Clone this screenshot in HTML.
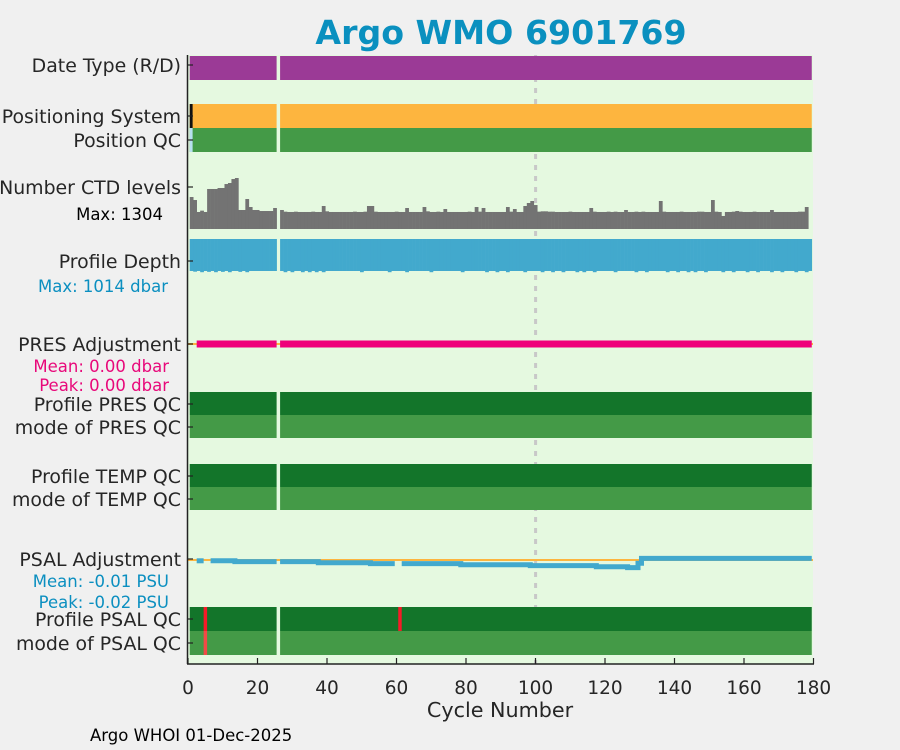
<!DOCTYPE html>
<html><head><meta charset="utf-8"><style>
html,body{margin:0;padding:0;background:#f0f0f0;}
svg{display:block;font-family:"DejaVu Sans","Liberation Sans",sans-serif;}
</style></head><body>
<svg id="chart" width="900" height="750" viewBox="0 0 900 750" xmlns="http://www.w3.org/2000/svg">
<rect x="0" y="0" width="900" height="750" fill="#f0f0f0"/>
<text x="501" y="44" text-anchor="middle" font-size="33.2" font-weight="bold" fill="#0a90bf">Argo WMO 6901769</text>
<rect x="188" y="55" width="625" height="609" fill="#e5f9e0"/>
<line x1="535.6" y1="55" x2="535.6" y2="664" stroke="#c8c8c8" stroke-width="3" stroke-dasharray="5,6"/>
<g id="marks"></g>
<line x1="187.5" y1="55" x2="187.5" y2="664" stroke="#222" stroke-width="1.5"/>
<line x1="187" y1="664" x2="814" y2="664" stroke="#222" stroke-width="1.5"/>
<g id="xticks"></g>
<g id="ylabels" font-size="18.9" fill="#262626" text-anchor="end"></g>
<text x="163" y="220" font-size="16.5" fill="#000" text-anchor="end">Max: 1304</text>
<text x="168" y="292" font-size="16.5" fill="#0b8fc0" text-anchor="end">Max: 1014 dbar</text>
<text x="169" y="372" font-size="16.5" fill="#e8087a" text-anchor="end">Mean: 0.00 dbar</text>
<text x="169" y="391" font-size="16.5" fill="#e8087a" text-anchor="end">Peak: 0.00 dbar</text>
<text x="169" y="587" font-size="16.5" fill="#0b8fc0" text-anchor="end">Mean: -0.01 PSU</text>
<text x="169" y="608" font-size="16.5" fill="#0b8fc0" text-anchor="end">Peak: -0.02 PSU</text>
<text x="500" y="717" font-size="20.7" fill="#262626" text-anchor="middle">Cycle Number</text>
<text x="90" y="741" font-size="16.5" fill="#000">Argo WHOI 01-Dec-2025</text>
</svg>
<script>
const NS="http://www.w3.org/2000/svg";
const xTicks=[0,20,40,60,80,100,120,140,160,180];
const cycles=[];for(let c=1;c<=179;c++){cycles.push(c);}
const missingCycles=[26];
const ctdLevels=[818,741,435,469,435,1023,1023,1023,1048,1048,1150,1176,1278,1304,486,486,767,562,486,486,460,460,460,460,537,null,486,443,435,435,443,435,435,435,435,443,435,435,588,452,435,435,435,435,435,435,435,443,435,435,443,588,588,443,435,435,435,435,435,443,435,435,537,435,435,435,435,562,452,435,435,443,435,511,435,435,435,435,435,435,443,435,562,443,537,435,435,435,435,435,435,562,443,511,435,435,588,665,716,613,443,452,452,443,443,435,435,435,435,443,435,435,435,435,435,537,443,435,435,435,443,435,443,435,435,486,435,435,443,435,443,435,435,435,435,716,443,435,435,435,435,443,435,435,435,435,443,443,435,435,741,443,435,333,435,435,443,460,443,435,435,435,443,435,435,435,435,486,435,435,435,435,435,435,435,443,443,562];
const ctdMax=1304;
const depths=[1000,1008,1000,1014,1000,1010,1000,1014,1000,1010,1000,1014,1000,1000,1010,1000,1014,1000,1000,1000,1000,1000,1000,1000,1000,null,1000,1014,1000,1014,1000,1000,1014,1000,1014,1000,1014,1000,1014,1000,1000,1000,1000,1000,1000,1000,1000,1000,1000,1014,1000,1000,1000,1000,1000,1000,1000,1014,1000,1000,1000,1000,1014,1000,1000,1000,1000,1000,1000,1014,1000,1000,1000,1000,1000,1000,1000,1000,1014,1000,1000,1000,1000,1000,1000,1014,1000,1000,1014,1000,1000,1014,1000,1000,1000,1000,1014,1000,1000,1000,1000,1014,1000,1000,1014,1000,1000,1014,1000,1000,1000,1014,1000,1014,1000,1000,1014,1000,1000,1000,1000,1000,1014,1000,1000,1000,1000,1000,1014,1000,1000,1014,1000,1000,1000,1000,1000,1014,1000,1000,1014,1000,1000,1014,1000,1014,1000,1000,1014,1000,1000,1000,1000,1014,1000,1000,1014,1000,1000,1000,1014,1000,1000,1014,1000,1000,1000,1014,1000,1000,1014,1000,1000,1000,1014,1000,1000,1014,1000,1000,1014];
const depthMax=1014;
const presAdj=[null,null,0,0,0,0,0,0,0,0,0,0,0,0,0,0,0,0,0,0,0,0,0,0,0,null,0,0,0,0,0,0,0,0,0,0,0,0,0,0,0,0,0,0,0,0,0,0,0,0,0,0,0,0,0,0,0,0,0,0,0,0,0,0,0,0,0,0,0,0,0,0,0,0,0,0,0,0,0,0,0,0,0,0,0,0,0,0,0,0,0,0,0,0,0,0,0,0,0,0,0,0,0,0,0,0,0,0,0,0,0,0,0,0,0,0,0,0,0,0,0,0,0,0,0,0,0,0,0,0,0,0,0,0,0,0,0,0,0,0,0,0,0,0,0,0,0,0,0,0,0,0,0,0,0,0,0,0,0,0,0,0,0,0,0,0,0,0,0,0,0,0,0,0,0,0,0,0,0];
const psalAdj=[null,null,-0.002,-0.002,null,null,-0.002,-0.002,-0.002,-0.002,-0.002,-0.002,-0.002,-0.004,-0.004,-0.004,-0.004,-0.004,-0.004,-0.004,-0.004,-0.004,-0.004,-0.004,-0.004,null,-0.004,-0.004,-0.004,-0.004,-0.004,-0.004,-0.004,-0.004,-0.004,-0.004,-0.004,-0.007,-0.007,-0.007,-0.007,-0.007,-0.007,-0.007,-0.007,-0.007,-0.007,-0.007,-0.007,-0.007,-0.007,-0.007,-0.009,-0.009,-0.009,-0.009,-0.009,-0.009,-0.009,null,null,-0.009,-0.009,-0.009,-0.009,-0.009,-0.009,-0.009,-0.009,-0.009,-0.009,-0.009,-0.009,-0.009,-0.009,-0.009,-0.009,-0.009,-0.012,-0.012,-0.012,-0.012,-0.012,-0.012,-0.012,-0.012,-0.012,-0.012,-0.012,-0.012,-0.012,-0.012,-0.012,-0.012,-0.012,-0.012,-0.012,-0.012,-0.014,-0.014,-0.014,-0.014,-0.014,-0.014,-0.014,-0.014,-0.014,-0.014,-0.014,-0.014,-0.014,-0.014,-0.014,-0.014,-0.014,-0.014,-0.014,-0.017,-0.017,-0.017,-0.017,-0.017,-0.017,-0.017,-0.017,-0.017,-0.019,-0.019,-0.019,-0.008,0.004,0.004,0.004,0.004,0.004,0.004,0.004,0.004,0.004,0.004,0.004,0.004,0.004,0.004,0.004,0.004,0.004,0.004,0.004,0.004,0.004,0.004,0.004,0.004,0.004,0.004,0.004,0.004,0.004,0.004,0.004,0.004,0.004,0.004,0.004,0.004,0.004,0.004,0.004,0.004,0.004,0.004,0.004,0.004,0.004,0.004,0.004,0.004,0.004];
const psalQcBadProfile=[5,61];
const psalQcBadMode=[5];
const positioningOther=[1];
const yLabels=["Date Type (R/D)","Positioning System","Position QC","Number CTD levels","Profile Depth","PRES Adjustment","Profile PRES QC","mode of PRES QC","Profile TEMP QC","mode of TEMP QC","PSAL Adjustment","Profile PSAL QC","mode of PSAL QC"];

const X0=188,X1=813.5,CMAX=180;
function xs(c){return X0+c*(X1-X0)/CMAX;}
function yCtd(v){return 229-v/ctdMax*51;}
function yDepth(v){return 271+(v-1000)/(depthMax-1000)*1.2;}
function yPres(v){return 344-v*400;}
function yPsal(v){return 560-v*400;}
const yLabelPos=[65,116,140,187,261,344,404,427,476,499,559,619,643];

const marks=document.getElementById('marks');
function rect(x,y,w,h,fill,name){const r=document.createElementNS(NS,'rect');r.setAttribute('x',x);r.setAttribute('y',y);r.setAttribute('width',w);r.setAttribute('height',h);r.setAttribute('fill',fill);


marks.appendChild(r);return r;}

function bandRow(y0,h,color,name){
  let start=null;
  for(let i=0;i<=cycles.length;i++){
    const c=cycles[i];
    const ok=c!==undefined&&missingCycles.indexOf(c)<0;
    if(ok&&start===null)start=c;
    if(!ok&&start!==null){const end=cycles[i-1];rect(xs(start-0.5),y0,xs(end+0.5)-xs(start-0.5),h,color,name);start=null;}
  }
}
bandRow(56,24,'#9b3a96','date-type-band');
bandRow(104,24,'#fdb53f','positioning-system-band');
bandRow(128,24,'#449a47','position-qc-band');
positioningOther.forEach(c=>{rect(xs(c-0.5),104,xs(c+0.5)-xs(c-0.5)-0.6,24,'#111','positioning-other-marker');rect(xs(c-0.5),128,xs(c+0.5)-xs(c-0.5)-0.6,24,'#b8e0f0','position-qc-marker');});
bandRow(392,23,'#13752a','profile-pres-qc-band');
bandRow(415,23,'#449a47','mode-pres-qc-band');
bandRow(464,23,'#13752a','profile-temp-qc-band');
bandRow(487,23,'#449a47','mode-temp-qc-band');
bandRow(607,24,'#13752a','profile-psal-qc-band');
bandRow(631,24,'#449a47','mode-psal-qc-band');
psalQcBadProfile.forEach(c=>rect(xs(c-0.5),607,xs(c+0.5)-xs(c-0.5),24,'#f61a28','psal-qc-bad-profile'));
psalQcBadMode.forEach(c=>rect(xs(c-0.5),631,xs(c+0.5)-xs(c-0.5),24,'#f24a46','psal-qc-bad-mode'));

cycles.forEach((c,i)=>{
  const v=ctdLevels[i];
  if(v!==null){const y=yCtd(v);rect(xs(c-0.5),y,xs(c+0.5)-xs(c-0.5)+0.3,229-y,'#737373','ctd-level-bar');}
  const d=depths[i];
  if(d!==null){const y=yDepth(d);rect(xs(c-0.5),239,xs(c+0.5)-xs(c-0.5)+0.3,y-239,'#42a9cd','profile-depth-bar');}
});

function line(x1,y1,x2,y2,stroke,w,name){const l=document.createElementNS(NS,'line');l.setAttribute('x1',x1);l.setAttribute('y1',y1);l.setAttribute('x2',x2);l.setAttribute('y2',y2);l.setAttribute('stroke',stroke);l.setAttribute('stroke-width',w);


marks.appendChild(l);}
line(188,yPres(0),813,yPres(0),'#fdb53f',2,'pres-zero-line');
line(188,yPsal(0),813,yPsal(0),'#fdb53f',2,'psal-zero-line');

function stepSeries(vals,yf,color,w,name){
  let pts=[];
  const flush=()=>{if(pts.length){const p=document.createElementNS(NS,'polyline');p.setAttribute('points',pts.join(' '));p.setAttribute('fill','none');p.setAttribute('stroke',color);p.setAttribute('stroke-width',w);
  
  
  marks.appendChild(p);pts=[];}};
  cycles.forEach((c,i)=>{const v=vals[i];if(v===null){flush();return;}const y=yf(v);pts.push(xs(c-0.5)+','+y,xs(c+0.5)+','+y);});
  flush();
}
stepSeries(presAdj,yPres,'#ef007a',7,'pres-adjustment-line');
stepSeries(psalAdj,yPsal,'#42a9cd',5,'psal-adjustment-line');

const xt=document.getElementById('xticks');
xTicks.forEach(t=>{
  const x=xs(t);
  const l=document.createElementNS(NS,'line');l.setAttribute('x1',x);l.setAttribute('x2',x);l.setAttribute('y1',658);l.setAttribute('y2',664);l.setAttribute('stroke','#222');l.setAttribute('stroke-width',1.2);
  
  
  xt.appendChild(l);
  const tx=document.createElementNS(NS,'text');tx.setAttribute('x',x);tx.setAttribute('y',694);tx.setAttribute('text-anchor','middle');tx.setAttribute('font-size','18.5');tx.setAttribute('fill','#262626');tx.textContent=t;
  
  
  xt.appendChild(tx);
});
const yl=document.getElementById('ylabels');
yLabels.forEach((s,i)=>{
  const y=yLabelPos[i];
  const tx=document.createElementNS(NS,'text');tx.setAttribute('x',181);tx.setAttribute('y',y+6.8);tx.textContent=s;
  
  
  yl.appendChild(tx);
  const l=document.createElementNS(NS,'line');l.setAttribute('x1',187);l.setAttribute('x2',193);l.setAttribute('y1',y);l.setAttribute('y2',y);l.setAttribute('stroke','#222');l.setAttribute('stroke-width',1.2);
  
  
  yl.appendChild(l);
});
</script>
</body></html>
